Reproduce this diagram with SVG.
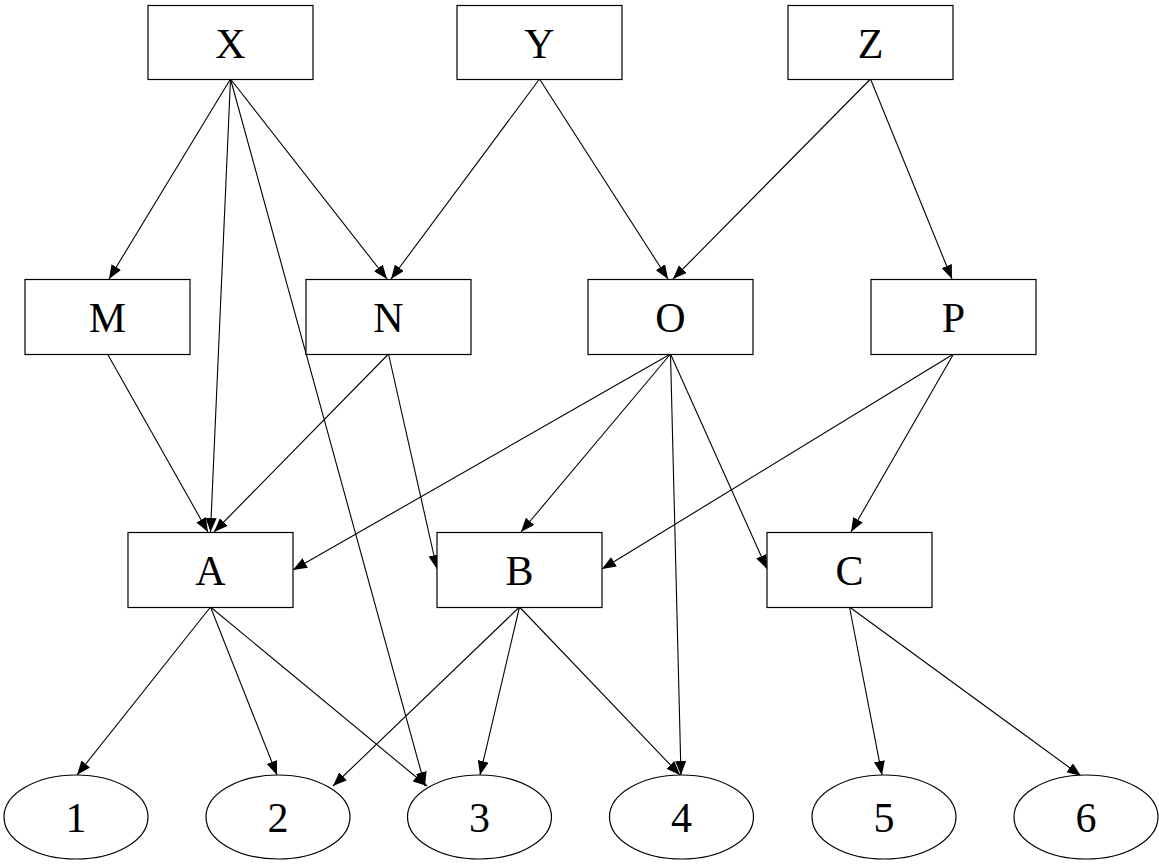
<svg xmlns="http://www.w3.org/2000/svg" width="1159" height="867" viewBox="0 0 1159 867">
<style>
.box{fill:#fff;stroke:#000;stroke-width:1.2}
.lbl{font-family:"Liberation Serif","Times New Roman",serif;font-size:42px;text-anchor:middle;fill:#000}
.edge{stroke:#000;stroke-width:1.1;fill:none;marker-end:url(#arr)}
</style>
<defs>
<marker id="arr" markerUnits="userSpaceOnUse" markerWidth="15" markerHeight="12" refX="14" refY="5.5" orient="auto">
<path d="M0,0 L14,5.5 L0,11 z" fill="#000"/>
</marker>
</defs>
<rect width="1159" height="867" fill="#fff"/>
<g id="connectors">
<line class="edge" x1="230.5" y1="79" x2="109" y2="279"/>
<line class="edge" x1="230.5" y1="79" x2="210.5" y2="532"/>
<line class="edge" x1="230.5" y1="79" x2="425" y2="786"/>
<line class="edge" x1="230.5" y1="79" x2="387" y2="279"/>
<line class="edge" x1="539.5" y1="79" x2="391" y2="279"/>
<line class="edge" x1="539.5" y1="79" x2="668" y2="279"/>
<line class="edge" x1="870.5" y1="79" x2="673" y2="279"/>
<line class="edge" x1="870.5" y1="79" x2="952" y2="279"/>
<line class="edge" x1="107.5" y1="354" x2="208" y2="532"/>
<line class="edge" x1="388.5" y1="354" x2="214" y2="532"/>
<line class="edge" x1="388.5" y1="354" x2="437" y2="569"/>
<line class="edge" x1="670.5" y1="354" x2="293" y2="570"/>
<line class="edge" x1="670.5" y1="354" x2="521" y2="532"/>
<line class="edge" x1="670.5" y1="354" x2="681" y2="775"/>
<line class="edge" x1="670.5" y1="354" x2="767" y2="569"/>
<line class="edge" x1="953.5" y1="354" x2="602" y2="569"/>
<line class="edge" x1="953.5" y1="354" x2="851" y2="532"/>
<line class="edge" x1="210.5" y1="607" x2="77" y2="775"/>
<line class="edge" x1="210.5" y1="607" x2="277" y2="775"/>
<line class="edge" x1="210.5" y1="607" x2="427" y2="786"/>
<line class="edge" x1="519.5" y1="607" x2="333" y2="786"/>
<line class="edge" x1="519.5" y1="607" x2="480" y2="775"/>
<line class="edge" x1="519.5" y1="607" x2="680" y2="775"/>
<line class="edge" x1="849.5" y1="607" x2="882" y2="775"/>
<line class="edge" x1="849.5" y1="607" x2="1081" y2="776"/>
</g>
<g id="node-X"><rect class="box" x="148" y="5.5" width="165" height="74"/><text class="lbl" x="230.5" y="58">X</text></g>
<g id="node-Y"><rect class="box" x="457" y="5.5" width="165" height="74"/><text class="lbl" x="539.5" y="58">Y</text></g>
<g id="node-Z"><rect class="box" x="788" y="5.5" width="165" height="74"/><text class="lbl" x="870.5" y="58">Z</text></g>
<g id="node-M"><rect class="box" x="25" y="279.5" width="165" height="75"/><text class="lbl" x="107.5" y="332">M</text></g>
<g id="node-N"><rect class="box" x="306" y="279.5" width="165" height="75"/><text class="lbl" x="388.5" y="332">N</text></g>
<g id="node-O"><rect class="box" x="588" y="279.5" width="165" height="75"/><text class="lbl" x="670.5" y="332">O</text></g>
<g id="node-P"><rect class="box" x="871" y="279.5" width="165" height="75"/><text class="lbl" x="953.5" y="332">P</text></g>
<g id="node-A"><rect class="box" x="128" y="532.5" width="165" height="75"/><text class="lbl" x="210.5" y="585">A</text></g>
<g id="node-B"><rect class="box" x="437" y="532.5" width="165" height="75"/><text class="lbl" x="519.5" y="585">B</text></g>
<g id="node-C"><rect class="box" x="767" y="532.5" width="165" height="75"/><text class="lbl" x="849.5" y="585">C</text></g>
<g id="node-1"><ellipse class="box" cx="76" cy="817" rx="72" ry="42"/><text class="lbl" x="76" y="832">1</text></g>
<g id="node-2"><ellipse class="box" cx="278" cy="817" rx="72" ry="42"/><text class="lbl" x="278" y="832">2</text></g>
<g id="node-3"><ellipse class="box" cx="479.5" cy="817" rx="72" ry="42"/><text class="lbl" x="479.5" y="832">3</text></g>
<g id="node-4"><ellipse class="box" cx="681.5" cy="817" rx="72" ry="42"/><text class="lbl" x="681.5" y="832">4</text></g>
<g id="node-5"><ellipse class="box" cx="884" cy="817" rx="72" ry="42"/><text class="lbl" x="884" y="832">5</text></g>
<g id="node-6"><ellipse class="box" cx="1086" cy="817" rx="72" ry="42"/><text class="lbl" x="1086" y="832">6</text></g>
</svg>
